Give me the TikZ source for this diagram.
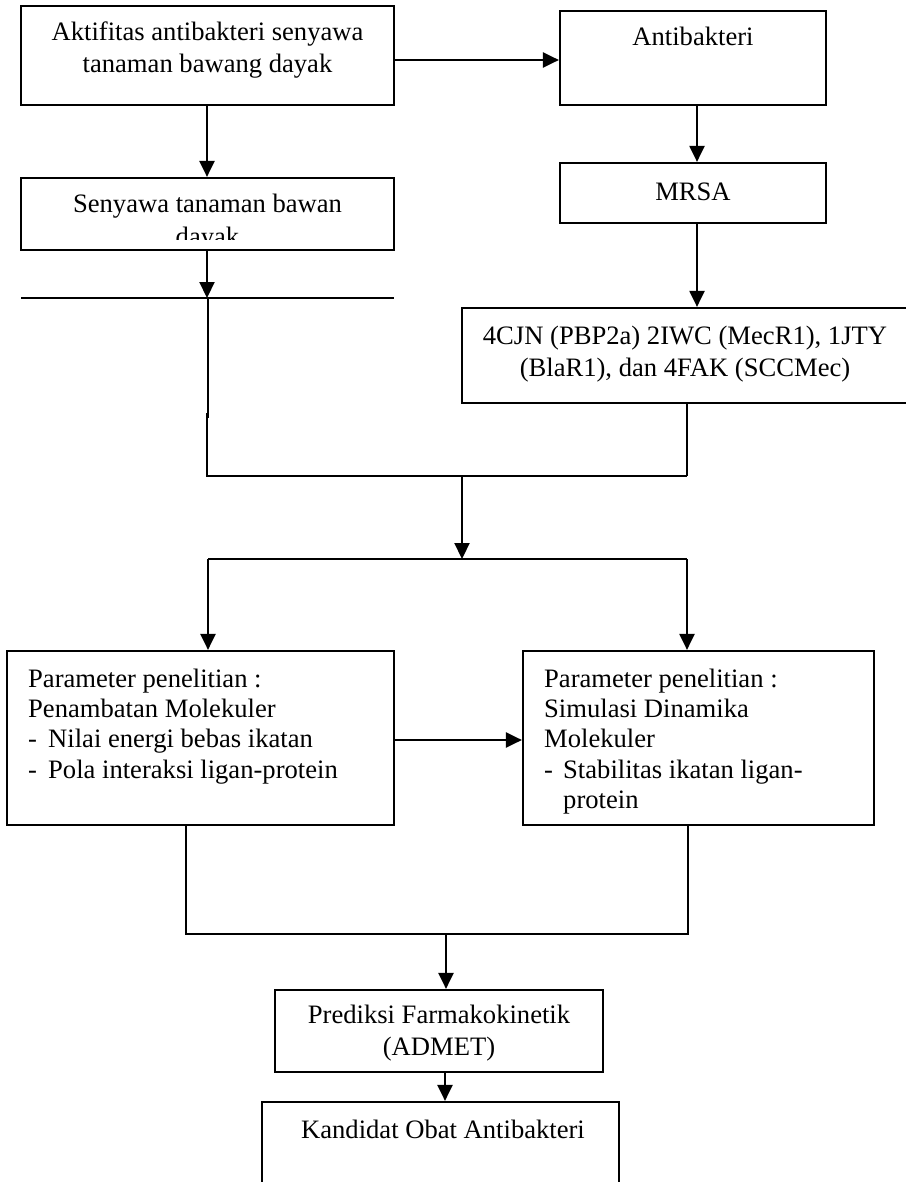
\documentclass[tikz,border=0pt]{standalone}
\usepackage{fontspec}
\setmainfont{Liberation Serif}
\usetikzlibrary{arrows.meta}
\tikzset{
  box/.style={draw, line width=2.2pt, rectangle, inner sep=0pt},
  txt/.style={font=\fontsize{26.6}{33}\selectfont, inner sep=0pt, anchor=base},
  ltxt/.style={txt, anchor=base west},
  arr/.style={line width=2.2pt, -{Triangle[length=16pt,width=15pt]}},
  ln/.style={line width=2pt},
}
\begin{document}
\begin{tikzpicture}[x=1pt,y=-1pt]
\useasboundingbox (0,0) rectangle (905,1182);
\fill[white] (0,0) rectangle (905,1182);

% boxes
\node[box, minimum width=373pt, minimum height=99pt] (A) at (207.5,55.5) {};
\node[box, minimum width=266pt, minimum height=94pt] (B) at (693,58) {};
\node[box, minimum width=266pt, minimum height=60pt] (C) at (693,193) {};
\node[box, minimum width=450pt, minimum height=95pt] (D) at (687,355.5) {};
\node[box, minimum width=373pt, minimum height=72pt] (E) at (207.5,214) {};
\node[box, minimum width=387pt, minimum height=174pt] (G) at (200.5,738) {};
\node[box, minimum width=351pt, minimum height=174pt] (H) at (698.5,738) {};
\node[box, minimum width=328pt, minimum height=82pt] (I) at (439,1031) {};
\node[box, minimum width=357pt, minimum height=92pt] (J) at (440.5,1148) {};

% texts
\node[txt] (A1) at (207.5,41) {Aktifitas antibakteri senyawa};
\node[txt] (A2) at (207.5,73) {tanaman bawang dayak};
\node[txt] (B1) at (693,46) {Antibakteri};
\node[txt] (C1) at (693,201) {MRSA};
\node[txt] (D1) at (685,344) {4CJN (PBP2a) 2IWC (MecR1), 1JTY};
\node[txt] (D2) at (685,376) {(BlaR1), dan 4FAK (SCCMec)};
\node[txt] (E1) at (207.5,213) {Senyawa tanaman bawan};
\begin{scope}
  \clip (21,178) rectangle (394,240);
  \node[txt] (E2) at (207.5,246) {dayak};
\end{scope}

\node[ltxt] (G1) at (28,687) {Parameter penelitian :};
\node[ltxt] (G2) at (28,717) {Penambatan Molekuler};
\node[ltxt] (G3d) at (28,747) {-};
\node[ltxt] (G3) at (48,747) {Nilai energi bebas ikatan};
\node[ltxt] (G4d) at (28,778) {-};
\node[ltxt] (G4) at (48,778) {Pola interaksi ligan-protein};

\node[ltxt] (H1) at (544,687) {Parameter penelitian :};
\node[ltxt] (H2) at (544,717) {Simulasi Dinamika};
\node[ltxt] (H3) at (544,747) {Molekuler};
\node[ltxt] (H4d) at (544,778) {-};
\node[ltxt] (H4) at (563,778) {Stabilitas ikatan ligan-};
\node[ltxt] (H5) at (563,808) {protein};

\node[txt] (I1) at (439,1023) {Prediksi Farmakokinetik};
\node[txt] (I2) at (439,1055) {(ADMET)};
\node[txt] (J1) at (443,1138) {Kandidat Obat Antibakteri};

% free coordinates
\coordinate (f1) at (21,298);
\coordinate (f2) at (394,298);
\coordinate (v1) at (208,298);
\coordinate (v2) at (208,418);
\coordinate (v3) at (207,413);
\coordinate (j1) at (207,476);
\coordinate (j2) at (687,476);
\coordinate (jm) at (462,476);
\coordinate (s1) at (208,559);
\coordinate (s2) at (687,559);
\coordinate (sm) at (462,559);
\coordinate (b1) at (186,934);
\coordinate (b2) at (688,934);
\coordinate (bm) at (446,934);

% connectors
\draw[arr] (A.east |- 0,60) -- (B.west |- 0,60);
\draw[arr] (B.south -| 697,0) -- (C.north -| 697,0);
\draw[arr] (C.south -| 697,0) -- (D.north -| 697,0);
\draw[arr] (A.south -| 207,0) -- (E.north -| 207,0);
\draw[arr] (E.south -| 207,0) -- (207,298);
\draw[ln] (f1) -- (f2);
\draw[ln] (v1) -- (v2);
\draw[ln] (v3) -- (j1) -- (j2);
\draw[ln] (D.south -| j2) -- (j2);
\draw[arr] (jm) -- (sm);
\draw[ln] (s1) -- (s2);
\draw[arr] (s1) -- (G.north -| s1);
\draw[arr] (s2) -- (H.north -| s2);
\draw[arr] (G.east |- 0,740) -- (H.west |- 0,740);
\draw[ln] (G.south -| b1) -- (b1) -- (b2) -- (H.south -| b2);
\draw[arr] (bm) -- (I.north -| bm);
\draw[arr] (I.south -| 445,0) -- (J.north -| 445,0);
\end{tikzpicture}
\end{document}
